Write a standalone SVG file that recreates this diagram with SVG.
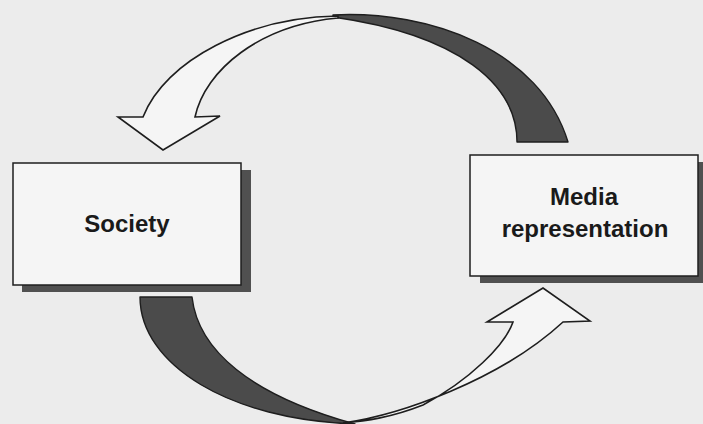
<svg xmlns="http://www.w3.org/2000/svg" width="703" height="424" viewBox="0 0 703 424">
  <style>
    .bg { fill: #ececec; }
    .shadow { fill: #505050; }
    .box { fill: #f5f5f5; stroke: #1e1e1e; stroke-width: 1.5; }
    .label { font-family: "Liberation Sans", Arial, sans-serif; font-size: 24px; font-weight: bold; fill: #1a1a1a; text-anchor: middle; }
    .front { fill: #f5f5f5; stroke: #1e1e1e; stroke-width: 1.6; stroke-linejoin: miter; }
    .back { fill: #4b4b4b; stroke: #1e1e1e; stroke-width: 1.4; stroke-linejoin: round; }
  </style>
  <rect class="bg" x="0" y="0" width="703" height="424"/>

  <g id="connectors">
    <g id="arrow-media-to-society">
      <path class="back" d="M 333,15 C 430,10 540,50 568,142 L 517,142 C 517,85 460,35 333,17 Z"/>
      <path class="front" d="M 338,16 C 250,17 165,60 143,117 L 118,117 L 163,150 L 220,116 L 195,117 C 205,70 260,25 338,18 Z"/>
    </g>
    <g id="arrow-society-to-media">
      <path class="back" d="M 140,297 L 192,297 C 198,350 250,395 355,424 C 230,420 140,365 140,297 Z"/>
      <path class="front" d="M 343,423 C 400,415 500,380 563,322 L 590,321 L 543,288 L 487,322 L 513,322 C 505,345 470,380 423,405 C 390,418 365,421 343,423 Z"/>
    </g>
  </g>

  <g id="society">
    <rect class="shadow" x="22" y="170" width="229" height="122"/>
    <rect class="box" x="13" y="163" width="228" height="122"/>
    <text class="label" x="127" y="232">Society</text>
  </g>

  <g id="media-representation">
    <rect class="shadow" x="480" y="162" width="230" height="121"/>
    <rect class="box" x="470" y="155" width="228" height="121"/>
    <text class="label" x="584" y="205">Media</text>
    <text class="label" x="585" y="237">representation</text>
  </g>
</svg>
